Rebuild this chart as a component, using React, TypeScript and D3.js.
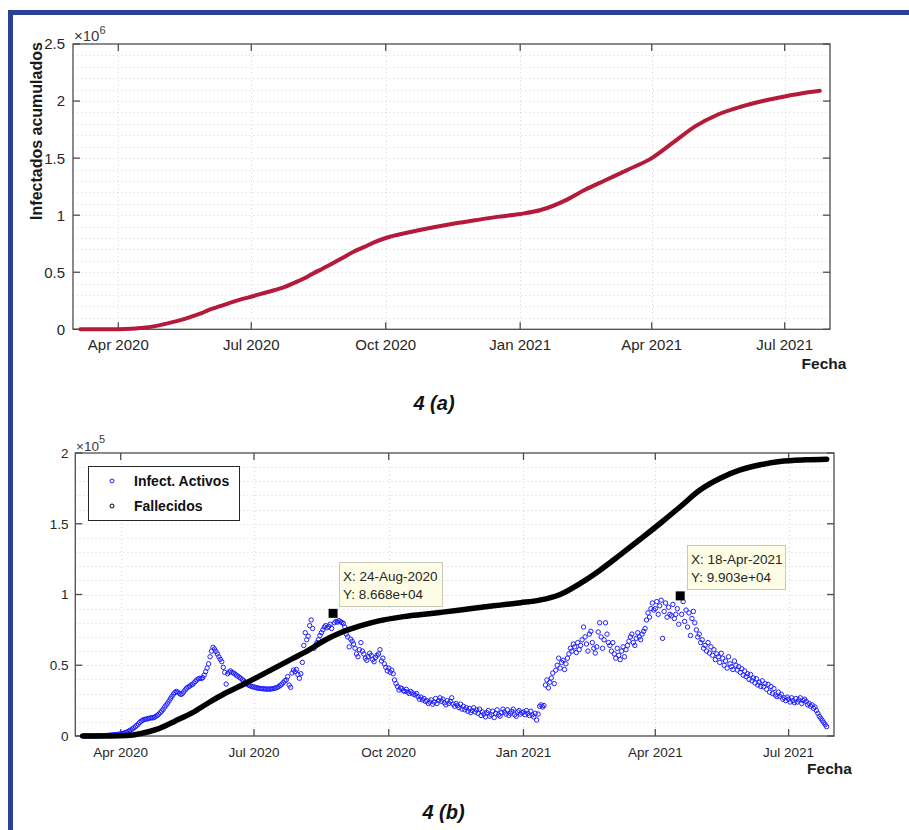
import React, { useEffect, useRef } from "react";
import * as d3 from "d3";

// ---- data ----
const parseDay = d3.timeParse("%Y-%m-%d");

// cumulative infected (millions)
const cumDates = ["2020-03-06", "2020-03-21", "2020-04-01", "2020-04-10", "2020-04-16", "2020-04-22", "2020-04-27", "2020-05-04", "2020-05-11", "2020-05-17", "2020-05-22", "2020-05-28", "2020-06-02", "2020-06-09", "2020-06-19", "2020-07-02", "2020-07-16", "2020-07-24", "2020-07-30", "2020-08-06", "2020-08-12", "2020-08-19", "2020-08-26", "2020-09-02", "2020-09-09", "2020-09-16", "2020-09-23", "2020-10-01", "2020-10-17", "2020-11-01", "2020-11-16", "2020-12-01", "2020-12-16", "2021-01-01", "2021-01-15", "2021-02-01", "2021-02-14", "2021-03-01", "2021-03-16", "2021-04-01", "2021-04-16", "2021-05-01", "2021-05-16", "2021-06-01", "2021-06-16", "2021-07-01", "2021-07-14", "2021-07-25"];
const cumValues = [0, 0, 0.001, 0.005, 0.011, 0.019, 0.03, 0.05, 0.072, 0.094, 0.115, 0.142, 0.17, 0.2, 0.243, 0.29, 0.34, 0.372, 0.405, 0.445, 0.487, 0.533, 0.58, 0.63, 0.68, 0.72, 0.762, 0.8, 0.85, 0.89, 0.925, 0.955, 0.985, 1.01, 1.045, 1.13, 1.22, 1.31, 1.4, 1.5, 1.64, 1.78, 1.88, 1.95, 2.0, 2.04, 2.07, 2.09];

// deaths (thousands)
const deathDates = ["2020-03-06", "2020-03-26", "2020-04-05", "2020-04-15", "2020-04-27", "2020-05-08", "2020-05-20", "2020-05-31", "2020-06-11", "2020-06-23", "2020-07-04", "2020-07-15", "2020-07-27", "2020-08-07", "2020-08-18", "2020-08-29", "2020-09-12", "2020-09-25", "2020-10-09", "2020-10-22", "2020-11-05", "2020-11-19", "2020-12-02", "2020-12-16", "2020-12-30", "2021-01-12", "2021-01-26", "2021-02-09", "2021-02-22", "2021-03-08", "2021-03-21", "2021-04-04", "2021-04-18", "2021-05-01", "2021-05-15", "2021-05-29", "2021-06-11", "2021-06-25", "2021-07-13", "2021-07-27"];
const deathValues = [0, 0, 0.3, 1.8, 5.2, 10.5, 16.5, 23.5, 30, 36, 42, 48, 54.5, 60.5, 67.5, 73, 78, 81.5, 84, 85.7, 87.3, 89, 90.8, 92.5, 94.2, 96, 100, 108, 117, 128, 138.5, 150, 162, 173.5, 182, 188, 191.5, 194, 195.2, 195.6];

// active infections (thousands), one value per day, month by month
const activeStarts = ["2020-03-07", "2020-04-01", "2020-05-01", "2020-06-01", "2020-07-01", "2020-08-01", "2020-09-01", "2020-10-01", "2020-11-01", "2020-12-01", "2021-01-01", "2021-02-01", "2021-03-01", "2021-04-01", "2021-05-01", "2021-06-01", "2021-07-01"];
const activeMar20 = [0, 0, 0, 0, 0, 0, 0, 0, 0, 0.1, 0.1, 0.1, 0.2, 0.2, 0.3, 0.3, 0.4, 0.5, 0.6, 0.7, 0.8, 0.9, 1.0, 1.1, 1.3];
const activeApr20 = [1.4, 1.7, 2.0, 2.3, 2.7, 3.2, 3.8, 4.3, 5.0, 5.8, 6.6, 7.5, 8.4, 9.6, 10.5, 11.2, 11.6, 11.9, 12.1, 12.4, 12.6, 13.0, 12.8, 13.2, 13.9, 14.6, 15.4, 16.5, 17.6, 18.8];
const activeMay20 = [20.5, 21.8, 23.2, 24.8, 26.5, 28.0, 29.6, 30.8, 31.5, 31.0, 30.2, 29.4, 29.8, 31.2, 32.6, 33.8, 34.6, 35.2, 36.0, 36.4, 37.5, 38.6, 39.6, 40.4, 40.8, 40.6, 41.2, 43.0, 45.5, 48.0, 51.0];
const activeJun20 = [56.0, 60.0, 62.7, 61.5, 59.8, 58.0, 56.0, 54.2, 52.5, 48.5, 45.0, 36.7, 44.0, 45.2, 46.0, 45.0, 44.5, 43.8, 43.0, 42.2, 41.5, 40.8, 39.8, 39.0, 38.2, 37.0, 36.2, 35.6, 35.2, 34.8];
const activeJul20 = [34.6, 34.3, 34.0, 33.8, 33.6, 33.5, 33.4, 33.3, 33.2, 33.2, 33.1, 33.2, 33.3, 33.5, 33.7, 34.0, 34.4, 35.0, 35.8, 36.6, 37.8, 39.0, 39.6, 42.0, 36.0, 34.4, 44.5, 46.6, 45.5, 47.0, 43.5];
const activeAug20 = [40.8, 44.0, 52.0, 64.0, 73.0, 68.0, 70.5, 78.0, 82.0, 76.0, 62.0, 64.0, 66.0, 68.0, 71.0, 73.0, 75.0, 77.0, 78.0, 76.5, 77.5, 79.0, 76.0, 86.68, 80.0, 81.0, 80.5, 81.5, 80.8, 80.2, 79.5];
const activeSep20 = [77.0, 72.0, 70.0, 63.0, 68.5, 67.0, 65.0, 62.0, 58.0, 56.0, 61.0, 66.0, 60.0, 58.0, 55.0, 53.5, 56.0, 58.5, 57.0, 54.0, 52.5, 55.5, 57.0, 58.0, 61.0, 53.0, 55.0, 51.0, 48.5, 46.0];
const activeOct20 = [48.0, 45.0, 46.5, 44.0, 39.6, 37.0, 35.0, 32.5, 34.0, 33.5, 32.0, 31.5, 33.0, 31.0, 30.0, 31.5, 30.5, 29.5, 29.0, 30.0, 27.8, 26.0, 27.5, 25.5, 26.5, 24.5, 25.0, 23.0, 24.0, 25.5, 22.5];
const activeNov20 = [24.0, 26.5, 23.0, 25.0, 27.0, 24.5, 26.0, 23.5, 22.0, 25.0, 23.0, 24.5, 27.0, 22.5, 21.0, 23.0, 21.5, 20.0, 22.5, 19.0, 21.0, 18.5, 20.0, 17.5, 19.5, 16.5, 18.0, 20.0, 17.0, 18.5];
const activeDec20 = [16.0, 19.0, 14.5, 17.0, 15.5, 13.5, 16.5, 18.0, 14.0, 15.0, 17.5, 13.0, 16.0, 18.5, 15.0, 14.0, 16.5, 19.0, 17.0, 15.5, 18.5, 14.5, 16.0, 17.5, 19.0, 15.0, 14.0, 17.0, 18.0, 15.5, 16.5];
const activeJan21 = [17.0, 15.0, 18.0, 16.0, 14.5, 17.5, 15.0, 13.5, 16.0, 11.3, 15.5, 21.0, 22.0, 20.5, 21.5, 36.0, 39.6, 34.0, 38.0, 41.0, 44.5, 37.0, 46.5, 50.0, 55.0, 48.0, 52.0, 53.5, 47.0, 51.0, 55.0];
const activeFeb21 = [58.0, 62.0, 60.0, 65.0, 63.0, 59.0, 66.0, 61.0, 64.0, 68.0, 77.0, 70.0, 65.0, 60.0, 72.0, 74.0, 66.0, 62.0, 58.6, 63.0, 73.5, 80.0, 70.0, 62.0, 68.0, 80.0, 72.0, 66.0];
const activeMar21 = [64.0, 60.0, 66.0, 58.0, 55.0, 62.0, 57.0, 54.0, 60.0, 63.0, 56.0, 61.0, 64.0, 67.0, 70.0, 72.0, 66.0, 64.0, 69.0, 73.0, 70.0, 68.0, 72.0, 74.0, 76.0, 82.0, 87.0, 84.0, 90.0, 94.0, 89.0];
const activeApr21 = [90.0, 95.0, 86.0, 92.0, 96.0, 69.0, 88.0, 94.0, 84.0, 91.0, 86.0, 85.0, 93.0, 83.0, 86.0, 90.0, 79.0, 99.03, 86.0, 95.0, 81.0, 89.0, 77.0, 87.0, 71.0, 83.0, 88.0, 80.0, 75.0, 70.0];
const activeMay21 = [72.0, 66.0, 68.0, 62.0, 64.0, 60.0, 66.0, 58.6, 63.0, 57.0, 61.0, 54.0, 58.0, 56.0, 52.0, 58.5, 55.0, 50.0, 53.0, 48.0, 56.0, 51.0, 49.0, 47.0, 53.0, 50.0, 46.6, 49.0, 45.0, 47.5, 43.0];
const activeJun21 = [46.0, 42.0, 44.0, 40.0, 43.5, 39.0, 41.0, 37.5, 40.5, 36.0, 38.0, 35.0, 39.0, 34.8, 37.0, 33.0, 36.5, 31.0, 35.0, 30.0, 33.5, 29.0, 27.8, 31.0, 28.0, 29.5, 26.0, 27.0, 25.0, 27.5];
const activeJul21 = [26.0, 24.0, 27.0, 25.0, 23.5, 26.5, 24.0, 25.5, 27.0, 23.0, 25.0, 26.0, 24.5, 22.0, 23.0, 21.0, 22.0, 19.5, 20.5, 18.0, 16.0, 14.0, 12.5, 11.0, 9.5, 8.0, 6.6];
const activeMonths = [activeMar20, activeApr20, activeMay20, activeJun20, activeJul20, activeAug20, activeSep20, activeOct20, activeNov20, activeDec20, activeJan21, activeFeb21, activeMar21, activeApr21, activeMay21, activeJun21, activeJul21];

// data tips
const tipDates = ["2020-08-24", "2021-04-18"];
const tipValues = [86.68, 99.03];
const tipLines = [["X: 24-Aug-2020", "Y: 8.668e+04"], ["X: 18-Apr-2021", "Y: 9.903e+04"]];

const topYTicks = [0, 0.5, 1, 1.5, 2, 2.5];
const topYTickLabels = ["0", "0.5", "1", "1.5", "2", "2.5"];
const botYTicks = [0, 50, 100, 150, 200];
const botYTickLabels = ["0", "0.5", "1", "1.5", "2"];
const legendLabels = ["Infect. Activos", "Fallecidos"];

const FONT = "'Liberation Sans', Arial, Helvetica, sans-serif";
const TXT = "#262626";
const AXIS = "#4d4d4d";
const GRID = "#d6d6d6";
const domainX = [new Date(2020, 2, 1), new Date(2021, 7, 1)];

function drawAxes(g, x, y, opts) {
  const [x0, x1] = x.range();
  const [y0, y1] = y.range();
  const xTicks = x.ticks(d3.timeMonth.every(3));
  const fmt = d3.timeFormat("%b %Y");

  // grid
  const minor = d3.range(opts.gridStep, opts.yMax, opts.gridStep);
  g.append("g")
    .selectAll("line")
    .data(minor)
    .enter()
    .append("line")
    .attr("x1", x0)
    .attr("x2", x1)
    .attr("y1", (d) => Math.round(y(d)) + 0.5)
    .attr("y2", (d) => Math.round(y(d)) + 0.5)
    .attr("stroke", GRID)
    .attr("stroke-dasharray", "1,3");
  g.append("g")
    .selectAll("line")
    .data(xTicks)
    .enter()
    .append("line")
    .attr("x1", (d) => Math.round(x(d)) + 0.5)
    .attr("x2", (d) => Math.round(x(d)) + 0.5)
    .attr("y1", y0)
    .attr("y2", y1)
    .attr("stroke", GRID)
    .attr("stroke-dasharray", "1,3");

  // box
  g.append("rect")
    .attr("x", x0)
    .attr("y", y1)
    .attr("width", x1 - x0)
    .attr("height", y0 - y1)
    .attr("fill", "none")
    .attr("stroke", AXIS)
    .attr("stroke-width", 1.3);

  // ticks, inward
  const tl = 7;
  xTicks.forEach((d) => {
    g.append("line").attr("x1", x(d)).attr("x2", x(d)).attr("y1", y0).attr("y2", y0 - tl).attr("stroke", AXIS).attr("stroke-width", 1.3);
    g.append("line").attr("x1", x(d)).attr("x2", x(d)).attr("y1", y1).attr("y2", y1 + tl).attr("stroke", AXIS).attr("stroke-width", 1.3);
    g.append("text")
      .attr("x", x(d))
      .attr("y", opts.xLabelY)
      .attr("text-anchor", "middle")
      .attr("font-family", FONT)
      .attr("font-size", opts.fs)
      .attr("fill", TXT)
      .text(fmt(d));
  });
  opts.yTicks.forEach((d, i) => {
    g.append("line").attr("x1", x0).attr("x2", x0 + tl).attr("y1", y(d)).attr("y2", y(d)).attr("stroke", AXIS).attr("stroke-width", 1.3);
    g.append("line").attr("x1", x1).attr("x2", x1 - tl).attr("y1", y(d)).attr("y2", y(d)).attr("stroke", AXIS).attr("stroke-width", 1.3);
    g.append("text")
      .attr("x", opts.yLabelX)
      .attr("y", y(d))
      .attr("dy", "0.36em")
      .attr("text-anchor", "end")
      .attr("font-family", FONT)
      .attr("font-size", opts.fs)
      .attr("fill", TXT)
      .text(opts.yTickLabels[i]);
  });

  // exponent
  const ex = g.append("text")
    .attr("x", opts.expX)
    .attr("y", opts.expY)
    .attr("font-family", FONT)
    .attr("font-size", opts.fs)
    .attr("fill", "#3a3a3a");
  ex.append("tspan").text("×10");
  ex.append("tspan").attr("dy", -7.5).attr("font-size", 11).text(opts.exp);

  // Fecha
  g.append("text")
    .attr("x", opts.fechaX)
    .attr("y", opts.fechaY)
    .attr("text-anchor", "middle")
    .attr("font-family", FONT)
    .attr("font-weight", "bold")
    .attr("font-size", 15.5)
    .attr("fill", "#1a1a1a")
    .text("Fecha");
}

function drawTop(svg) {
  const g = svg.append("g");
  const x = d3.scaleTime().domain(domainX).range([73, 830]);
  const y = d3.scaleLinear().domain([0, 2.5]).range([329.3, 44]);
  drawAxes(g, x, y, {
    gridStep: 0.1, yMax: 2.5, yTicks: topYTicks, yTickLabels: topYTickLabels,
    fs: 15, xLabelY: 350, yLabelX: 65, expX: 74, expY: 41, exp: "6", fechaX: 824, fechaY: 369,
  });

  const pts = cumDates.map((d, i) => ({ date: parseDay(d), v: cumValues[i] }));
  const line = d3.line().x((d) => x(d.date)).y((d) => y(d.v)).curve(d3.curveMonotoneX);
  g.append("path")
    .attr("d", line(pts))
    .attr("fill", "none")
    .attr("stroke", "#b41a3a")
    .attr("stroke-width", 4)
    .attr("stroke-linecap", "round");

  g.append("text")
    .attr("transform", "translate(41.5,131) rotate(-90)")
    .attr("text-anchor", "middle")
    .attr("font-family", FONT)
    .attr("font-weight", "bold")
    .attr("font-size", 16)
    .attr("fill", "#1a1a1a")
    .text("Infectados acumulados");

  g.append("text")
    .attr("x", 434)
    .attr("y", 410)
    .attr("text-anchor", "middle")
    .attr("font-family", FONT)
    .attr("font-weight", "bold")
    .attr("font-style", "italic")
    .attr("font-size", 20)
    .attr("fill", "#111")
    .text("4 (a)");
}

function drawBottom(svg) {
  const g = svg.append("g");
  const x = d3.scaleTime().domain(domainX).range([75.3, 834]);
  const y = d3.scaleLinear().domain([0, 200]).range([736, 453]);
  drawAxes(g, x, y, {
    gridStep: 10, yMax: 200, yTicks: botYTicks, yTickLabels: botYTickLabels,
    fs: 13.5, xLabelY: 757, yLabelX: 68.5, expX: 76, expY: 450.5, exp: "5", fechaX: 829.5, fechaY: 774,
  });

  // active infections, circles
  const active = [];
  activeMonths.forEach((arr, m) => {
    const start = parseDay(activeStarts[m]);
    arr.forEach((v, i) => active.push({ date: d3.timeDay.offset(start, i), v }));
  });
  g.append("g")
    .selectAll("circle")
    .data(active)
    .enter()
    .append("circle")
    .attr("cx", (d) => x(d.date))
    .attr("cy", (d) => y(d.v))
    .attr("r", 2.2)
    .attr("fill", "none")
    .attr("stroke", "#1f1fff")
    .attr("stroke-width", 1);

  // deaths, dense black markers
  const deaths = deathDates.map((d, i) => ({ date: parseDay(d), v: deathValues[i] }));
  const line = d3.line().x((d) => x(d.date)).y((d) => y(d.v)).curve(d3.curveMonotoneX);
  g.append("path")
    .attr("d", line(deaths))
    .attr("fill", "none")
    .attr("stroke", "#000")
    .attr("stroke-width", 5.5)
    .attr("stroke-linecap", "round");

  // legend
  const lg = g.append("g");
  lg.append("rect")
    .attr("x", 88.5).attr("y", 466.5).attr("width", 151).attr("height", 54)
    .attr("fill", "#fff").attr("stroke", "#262626").attr("stroke-width", 1);
  legendLabels.forEach((lab, i) => {
    const cy = 481 + i * 25;
    lg.append("circle").attr("cx", 112).attr("cy", cy).attr("r", 2)
      .attr("fill", "none").attr("stroke", i === 0 ? "#1f1fff" : "#000").attr("stroke-width", 1);
    lg.append("text").attr("x", 134).attr("y", cy + 5)
      .attr("font-family", FONT).attr("font-weight", "bold").attr("font-size", 14)
      .attr("fill", "#111").text(lab);
  });

  // data tips
  const boxes = [
    { bx: 339, by: 562, w: 103, h: 44 },
    { bx: 687, by: 545, w: 98, h: 44 },
  ];
  tipDates.forEach((d, i) => {
    const px = x(parseDay(d));
    const py = y(tipValues[i]);
    const b = boxes[i];
    g.append("rect")
      .attr("x", b.bx + 0.5).attr("y", b.by + 0.5).attr("width", b.w).attr("height", b.h)
      .attr("fill", "#fdfde6").attr("stroke", "#c9c9b8").attr("stroke-width", 1);
    tipLines[i].forEach((t, j) => {
      g.append("text")
        .attr("x", b.bx + 4).attr("y", b.by + 19 + j * 17.5)
        .attr("font-family", FONT).attr("font-size", 13.5).attr("fill", TXT)
        .text(t);
    });
    g.append("rect")
      .attr("x", px - 4.5).attr("y", py - 4.5).attr("width", 9).attr("height", 9)
      .attr("fill", "#000");
  });

  g.append("text")
    .attr("x", 443.5)
    .attr("y", 819)
    .attr("text-anchor", "middle")
    .attr("font-family", FONT)
    .attr("font-weight", "bold")
    .attr("font-style", "italic")
    .attr("font-size", 20)
    .attr("fill", "#111")
    .text("4 (b)");
}

export default function App() {
  const ref = useRef(null);

  useEffect(() => {
    const svg = d3.select(ref.current);
    svg.selectAll("*").remove();
    svg.append("rect").attr("width", 909).attr("height", 830).attr("fill", "#fff");
    // blue frame (top and left edges visible)
    svg.append("rect").attr("x", 8).attr("y", 10).attr("width", 901).attr("height", 5).attr("fill", "#2c3f96");
    svg.append("rect").attr("x", 8).attr("y", 10).attr("width", 5).attr("height", 820).attr("fill", "#2c3f96");
    drawTop(svg);
    drawBottom(svg);
  }, []);

  return (
    <svg
      ref={ref}
      width={909}
      height={830}
      style={{ position: "absolute", left: 0, top: 0, display: "block" }}
    />
  );
}
